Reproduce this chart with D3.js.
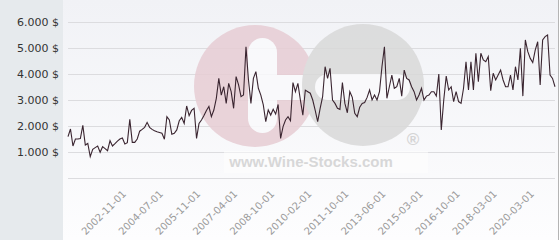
<!DOCTYPE html>
<html>
<head>
<meta charset="utf-8">
<script src="https://cdn.jsdelivr.net/npm/d3@7"></script>
<style>
  body { margin: 0; background: #fff; }
  svg { display: block; }
</style>
</head>
<body>
<script>
// prices, one per sale, left to right
var values = [
  1590, 1885, 1230, 1500, 1500, 1520, 2025, 1270, 1330, 820,
  1100, 1170, 1230, 990, 1205, 1130, 1050, 1435, 1230, 1320,
  1420, 1500, 1540, 1310, 1360, 2255, 1370, 1370, 1500, 1800,
  1870, 1950, 2140, 1950, 1870, 1820, 1780, 1750, 1720, 1490,
  2360, 2230, 1680, 1720, 1850, 2200, 2330, 2100, 2770, 2400,
  2600, 2680, 1525, 2100, 2230, 2400, 2600, 2750, 2360, 2615,
  3065, 3830, 3190, 3510, 2870, 3640, 3320, 2680, 3900, 3580,
  3130, 3190, 5050, 3770, 2870, 3830, 4090, 3450, 3190, 2810,
  2170, 2615, 2420, 2640, 2460, 2830, 1525, 1975, 2230, 2360,
  2200, 3670, 3320, 3640, 3000, 2420, 3380, 3320, 3260, 3000,
  2600, 2170, 2680, 3130, 4280, 3830, 4220, 3000, 2870, 2680,
  2640, 3670, 2870, 2510, 3320, 3100, 2490, 2360, 2720, 2870,
  2900, 3100, 3385, 3000, 3190, 3000, 3320, 4280, 5050, 3065,
  3510, 3960, 3450, 3510, 3830, 3150, 4150, 3830, 3770, 3510,
  3320, 3000, 3190, 3450, 3000, 3150, 3190, 3320, 3320, 3150,
  4000, 1850, 3000, 3920, 3385, 3510, 2940, 3320, 2940, 2870,
  3450, 4470, 3385, 4470, 3385, 4800, 3700, 4800, 4540, 4470,
  4670, 3360, 4030, 3770, 3960, 4150, 3770, 3510, 3510, 3960,
  3385, 4280, 3770, 4990, 3150, 5310, 4860, 4600, 4440, 4920,
  5240, 3580, 5310, 5440, 5500, 3960, 3830, 3510
];

// labelled sale dates: every 15th sale starting from the 26th
var xLabels = [
  "2002-11-01", "2004-07-01", "2005-11-01", "2007-04-01", "2008-10-01", "2010-02-01",
  "2011-10-01", "2013-06-01", "2015-03-01", "2016-10-01", "2018-03-01", "2020-03-01"
];
var labelStart = 25, labelEvery = 15;

var yTicks = [0, 1000, 2000, 3000, 4000, 5000, 6000];

var W = 560, H = 240;
var plotLeft = 68, plotRight = 555, plotTop = 22, plotBottom = 178;

var svg = d3.select("body").append("svg")
  .attr("width", W)
  .attr("height", H);

// background: grey side panel + soft gradient plot area
var grad = svg.append("defs").append("linearGradient")
  .attr("id", "bg").attr("x1", 0).attr("y1", 0).attr("x2", 0).attr("y2", 1);
grad.append("stop").attr("offset", "0%").attr("stop-color", "#f1f2f6");
grad.append("stop").attr("offset", "100%").attr("stop-color", "#fdfdfe");

svg.append("rect").attr("x", 0).attr("y", 0).attr("width", 63).attr("height", H).attr("fill", "#e6eaed");
svg.append("rect").attr("x", 63).attr("y", 0).attr("width", 496).attr("height", H).attr("fill", "url(#bg)");
svg.append("line").attr("x1", 558.5).attr("x2", 558.5).attr("y1", 0).attr("y2", H)
  .attr("stroke", "#b4b4b4");

var x = d3.scalePoint()
  .domain(d3.range(values.length))
  .range([plotLeft, plotRight]);

var y = d3.scaleLinear()
  .domain([0, 6000])
  .range([plotBottom, plotTop]);

var loc = d3.formatLocale({ decimal: ",", thousands: ".", grouping: [3], currency: ["", " $"] });
var fmt = loc.format(",");

// y axis with gridlines
var yAxis = svg.append("g")
  .attr("transform", "translate(" + plotLeft + ",0)")
  .call(d3.axisLeft(y)
    .tickValues(yTicks)
    .tickSize(-(plotRight - plotLeft))
    .tickPadding(9)
    .tickFormat(function(d) { return d === 0 ? "" : fmt(d) + " $"; }));
yAxis.select(".domain").remove();
yAxis.selectAll(".tick line").attr("stroke", "#dcdcdf");
yAxis.selectAll(".tick text")
  .attr("fill", "#333")
  .style("font-family", "DejaVu Sans")
  .style("font-size", "11px");

// watermark logo
var wm = svg.append("g").attr("opacity", 0.85);
wm.append("circle").attr("cx", 255).attr("cy", 86).attr("r", 61).attr("fill", "#e7cdd4");
wm.append("rect").attr("x", 262).attr("y", 75).attr("width", 60).attr("height", 25).attr("fill", "#fafafc");
wm.append("circle").attr("cx", 363).attr("cy", 85).attr("r", 61).attr("fill", "#d9d9d9");
wm.append("rect").attr("x", 248).attr("y", 38).attr("width", 29).attr("height", 95).attr("rx", 14.5).attr("fill", "#fafafc");
wm.append("rect").attr("x", 315).attr("y", 74).attr("width", 95).attr("height", 26).attr("rx", 13).attr("fill", "#fafafc");
wm.append("rect").attr("x", 224).attr("y", 151).attr("width", 204).attr("height", 22).attr("fill", "#ffffff").attr("opacity", 0.6);
wm.append("text").attr("x", 311).attr("y", 167).attr("text-anchor", "middle")
  .style("font-family", "Liberation Sans").style("font-weight", "bold").style("font-size", "15px")
  .attr("fill", "#d2d2d2").text("www.Wine-Stocks.com");
wm.append("text").attr("x", 413).attr("y", 145).attr("text-anchor", "middle")
  .style("font-family", "Liberation Sans").style("font-weight", "bold").style("font-size", "17px")
  .attr("fill", "#cfcfcf").text("®");

// x axis labels, rotated
var tickIdx = xLabels.map(function(d, i) { return labelStart + i * labelEvery; });
var xAxis = svg.append("g")
  .attr("transform", "translate(0," + plotBottom + ")")
  .call(d3.axisBottom(x)
    .tickValues(tickIdx)
    .tickSize(0)
    .tickFormat(function(d, i) { return xLabels[i]; }));
xAxis.select(".domain").remove();
xAxis.selectAll(".tick text")
  .attr("x", 0).attr("y", 0).attr("dy", "0.35em")
  .attr("transform", "translate(-6,14) rotate(-45)")
  .style("text-anchor", "end")
  .attr("fill", "#9a9a9a")
  .style("font-family", "DejaVu Sans")
  .style("font-size", "10px");

// the price line
var line = d3.line()
  .x(function(d, i) { return x(i); })
  .y(function(d) { return y(d); });

svg.append("path")
  .datum(values)
  .attr("fill", "none")
  .attr("stroke", "#3a2530")
  .attr("stroke-width", 1.1)
  .attr("stroke-linejoin", "miter")
  .attr("d", line);
</script>
</body>
</html>
